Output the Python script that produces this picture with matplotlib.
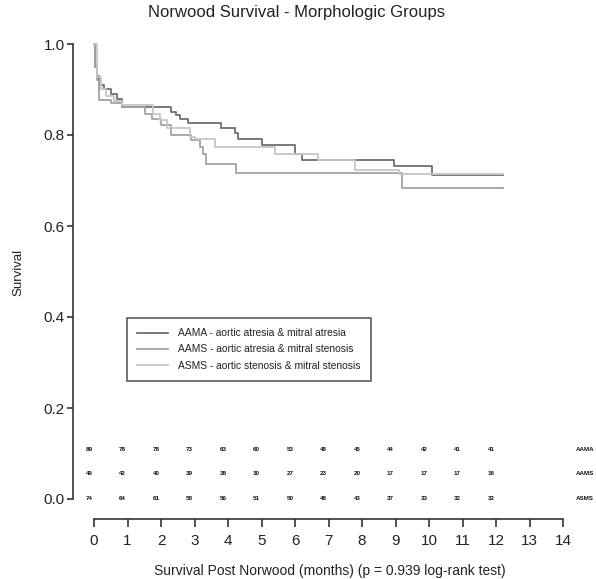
import matplotlib
matplotlib.use("Agg")
import matplotlib.pyplot as plt

plt.rcParams['font.family'] = ['Liberation Sans', 'DejaVu Sans']

# ---- data ----
groups = ["AAMA", "AAMS", "ASMS"]
labels = ["AAMA - aortic atresia & mitral atresia",
          "AAMS - aortic atresia & mitral stenosis",
          "ASMS - aortic stenosis & mitral stenosis"]
colors = ["#6e6e6e", "#a2a2a2", "#c6c6c6"]

aama_t = [0, 0.04, 0.1, 0.15, 0.3, 0.5, 0.7, 0.85, 2.3, 2.46, 2.56, 2.8, 3.8, 4.2, 4.3, 5.0, 6.0, 6.2, 8.96, 10.1, 12.2]
aama_s = [1.0, 0.95, 0.93, 0.91, 0.90, 0.89, 0.88, 0.862, 0.851, 0.843, 0.836, 0.826, 0.815, 0.804, 0.792, 0.777, 0.759, 0.746, 0.731, 0.713, 0.713]

aams_t = [0, 0.03, 0.08, 0.15, 0.5, 0.85, 1.52, 1.73, 2.0, 2.3, 2.9, 3.15, 3.25, 3.35, 4.25, 9.2, 12.2]
aams_s = [1.0, 0.95, 0.92, 0.876, 0.87, 0.862, 0.847, 0.836, 0.821, 0.799, 0.788, 0.773, 0.759, 0.737, 0.717, 0.684, 0.684]

asms_t = [0, 0.1, 0.2, 0.35, 0.6, 0.85, 1.77, 1.96, 2.17, 2.86, 3.0, 3.6, 5.4, 6.7, 7.8, 9.1, 12.2]
asms_s = [1.0, 0.927, 0.90, 0.885, 0.875, 0.865, 0.847, 0.832, 0.815, 0.795, 0.792, 0.773, 0.759, 0.746, 0.724, 0.715, 0.715]

times = [aama_t, aams_t, asms_t]
survs = [aama_s, aams_s, asms_s]

risk_times = list(range(13))
risk_aama = [89, 78, 78, 73, 63, 60, 53, 48, 45, 44, 42, 41, 41]
risk_aams = [49, 42, 40, 39, 38, 30, 27, 23, 20, 17, 17, 17, 16]
risk_asms = [74, 64, 61, 58, 56, 51, 50, 48, 43, 37, 33, 32, 32]
risk_rows = [risk_aama, risk_aams, risk_asms]
risk_y = [0.108, 0.055, 0.0]

x_ticks = list(range(15))
y_ticks = [0.0, 0.2, 0.4, 0.6, 0.8, 1.0]

# ---- figure ----
fig = plt.figure(figsize=(5.96, 5.79), dpi=100)
W, H = 596, 579
left_px, right_px, top_px, bot_px = 60, 590, 30, 535
ax = fig.add_axes([left_px / W, 1 - bot_px / H, (right_px - left_px) / W, (bot_px - top_px) / H])

x0, xs = 94, 33.5
y0, ys = 499, 455
ax.set_xlim((left_px - x0) / xs, (right_px - x0) / xs)
ax.set_ylim((y0 - bot_px) / ys, (y0 - top_px) / ys)

for t, s, c, lab in zip(times, survs, colors, labels):
    ax.step(t, s, where='post', color=c, lw=1.3, label=lab)

for row, yv in zip(risk_rows, risk_y):
    for tt, n in zip(risk_times, row):
        ax.text(tt - 0.15, yv, str(n), fontsize=4.5, fontweight='bold',
                ha='center', va='center', color='#111111')
for g, yv in zip(groups, risk_y):
    ax.text((576 - x0) / xs, yv, g, fontsize=4.5, fontweight='bold', ha='left', va='center',
            color='#111111', clip_on=False)

for sp in ['top', 'right']:
    ax.spines[sp].set_visible(False)
ax.spines['left'].set_position(('data', (73 - x0) / xs))
ax.spines['left'].set_bounds(0, 1)
ax.spines['bottom'].set_position(('data', (y0 - 519) / ys))
ax.spines['bottom'].set_bounds(0, 14)
for sp in ['left', 'bottom']:
    ax.spines[sp].set_linewidth(1.2)
    ax.spines[sp].set_color('#333333')

ax.set_xticks(x_ticks)
ax.set_yticks(y_ticks)
ax.set_yticklabels([f"{v:.1f}" for v in y_ticks])
ax.tick_params(axis='x', direction='out', length=6, width=1.2, color='#333333',
               labelsize=11, pad=5, labelcolor='#222222')
ax.tick_params(axis='y', direction='out', length=4, width=1.2, color='#333333',
               labelsize=11, pad=2, labelcolor='#222222')

fig.text(297 / W, 1 - 13 / H, "Norwood Survival - Morphologic Groups",
         ha='center', va='center', fontsize=12, color='#222222')
fig.text(18 / W, 1 - 272 / H, "Survival", rotation=90, ha='center', va='center',
         fontsize=9.5, color='#222222')
fig.text(330 / W, 1 - 571 / H, "Survival Post Norwood (months) (p = 0.939 log-rank test)",
         ha='center', va='center', fontsize=10, color='#222222')

leg = ax.legend(loc='upper left', bbox_to_anchor=(127 / W, 1 - 318 / H),
                bbox_transform=fig.transFigure, fontsize=7.4, frameon=True,
                fancybox=False, edgecolor='#333333', handlelength=3.0,
                labelspacing=0.6, borderpad=1.0, handletextpad=1.0,
                borderaxespad=0)
leg.get_frame().set_linewidth(1.2)
for txt in leg.get_texts():
    txt.set_color('#222222')

fig.savefig("out.png", dpi=100)
